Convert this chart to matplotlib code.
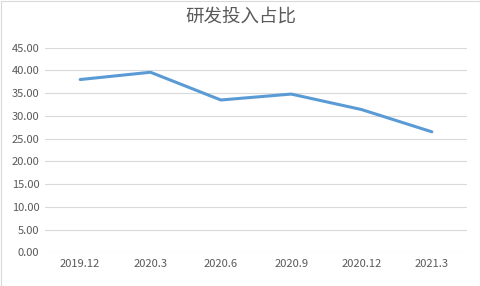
import matplotlib
matplotlib.use("Agg")
import matplotlib.pyplot as plt
from matplotlib.patches import Rectangle

plt.rcParams['font.family'] = ['Noto Sans CJK SC', 'DejaVu Sans']

categories = ["2019.12", "2020.3", "2020.6", "2020.9", "2020.12", "2021.3"]
values = [38.0, 39.6, 33.5, 34.8, 31.4, 26.5]
yticks = [0, 5, 10, 15, 20, 25, 30, 35, 40, 45]
title = "研发投入占比"

fig = plt.figure(figsize=(4.81, 2.86), dpi=100)
ax = fig.add_axes([45/481, 1-252.3/286, 422/481, 204.6/286])

x = list(range(len(categories)))
ax.plot(x, values, color="#5B9BD5", linewidth=2.2, solid_capstyle="round", solid_joinstyle="round")

ax.set_xlim(-0.5, len(categories)-0.5)
ax.set_ylim(0, 45)
ax.set_yticks(yticks)
ax.set_yticklabels([f"{v:.2f}" for v in yticks])
ax.set_xticks(x)
ax.set_xticklabels(categories)
ax.tick_params(axis='both', length=0, labelsize=8, colors="#595959")
ax.tick_params(axis='x', pad=5)
ax.tick_params(axis='y', pad=4)
ax.grid(axis='y', color="#D9D9D9", linewidth=0.8)
ax.set_axisbelow(True)
for s in ax.spines.values():
    s.set_visible(False)

fig.text(0.5, 1-18/286, title, ha='center', va='center', fontsize=13.3, color="#595959")

fig.patches.append(Rectangle((0.5/481, 0.5/286), 1-1/481, 1-1/286, transform=fig.transFigure,
                             fill=False, edgecolor="#D9D9D9", linewidth=0.8))

fig.savefig("out.png", dpi=100)
